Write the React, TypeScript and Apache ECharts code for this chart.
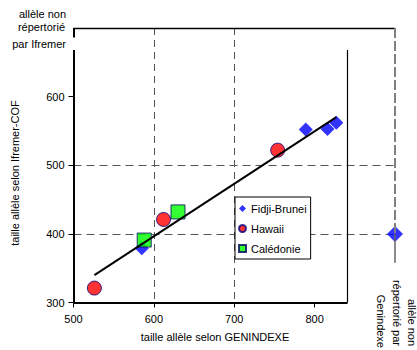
import React, { useEffect, useRef } from "react";
import * as echarts from "echarts";

// ---- data ----
const fidjiBrunei: number[][] = [
  [585, 379],
  [789, 552],
  [816, 553],
  [827, 562],
];
// allele not listed by Genindexe (plotted in the right band)
const fidjiNonRepertorie: number[][] = [[900, 400]];
const hawaii: number[][] = [
  [526, 321],
  [612, 421],
  [754, 522],
];
const caledonie: number[][] = [
  [588, 391],
  [630, 432],
];
const trendLine: number[][] = [
  [526, 340],
  [827, 570],
];
const xTicks = [500, 600, 700, 800];
const yTicks = [300, 400, 500, 600];
const seriesNames = ["Fidji-Brunei", "Hawaii", "Calédonie"];

const FONT = "Liberation Sans, Arial, sans-serif";

export default function App() {
  const ref = useRef<HTMLDivElement>(null);

  useEffect(() => {
    if (!ref.current) return;
    const chart = echarts.init(ref.current, undefined, { renderer: "svg" });

    const seg = (a: number[], b: number[], style: any) => [
      { coord: a, lineStyle: style },
      { coord: b },
    ];
    const solid = (w: number) => ({ color: "#000", width: w, type: "solid" });

    const option: any = {
      animation: false,
      backgroundColor: "#fff",
      textStyle: { fontFamily: FONT },
      grid: { left: 73.5, top: 28, width: 321.5, height: 274.5 },
      legend: {
        orient: "vertical",
        left: 235,
        top: 197,
        data: seriesNames,
        itemWidth: 7,
        itemHeight: 7,
        itemGap: 9,
        padding: [6, 4, 5, 3],
        backgroundColor: "#fff",
        borderColor: "#000",
        borderWidth: 1,
        textStyle: { fontSize: 11, color: "#000", fontFamily: FONT },
      },
      xAxis: {
        type: "value",
        min: 500,
        max: 900,
        interval: 100,
        axisLine: { show: false },
        axisTick: {
          show: true,
          length: 5,
          customValues: xTicks,
          lineStyle: { color: "#000", width: 1 },
        },
        axisLabel: {
          customValues: xTicks,
          margin: 11,
          color: "#000",
          fontSize: 11,
          fontFamily: FONT,
          formatter: (v: number) => (v > 800 ? "" : String(v)),
        },
        splitLine: {
          show: true,
          showMinLine: false,
          showMaxLine: false,
          lineStyle: { color: "#555", type: [7, 5], width: 1 },
        },
      },
      yAxis: {
        type: "value",
        min: 300,
        max: 700,
        interval: 100,
        axisLine: { show: false },
        axisTick: {
          show: true,
          length: 5,
          customValues: yTicks,
          lineStyle: { color: "#000", width: 1 },
        },
        axisLabel: {
          customValues: yTicks,
          margin: 9,
          color: "#000",
          fontSize: 11,
          fontFamily: FONT,
          formatter: (v: number) => (v > 600 ? "" : String(v)),
        },
        splitLine: {
          show: true,
          showMinLine: false,
          showMaxLine: false,
          lineStyle: { color: "#555", type: [8, 5], width: 1 },
        },
      },
      series: [
        {
          name: "Fidji-Brunei",
          type: "scatter",
          symbol: "diamond",
          symbolSize: 14,
          itemStyle: { color: "#0000FF" },
          data: [
            ...fidjiBrunei.map((p) => ({ value: p })),
            ...fidjiNonRepertorie.map((p) => ({ value: p, symbolSize: 16 })),
          ],
          z: 3,
        },
        {
          name: "Hawaii",
          type: "scatter",
          symbol: "circle",
          symbolSize: 14,
          itemStyle: { color: "#FF0000", borderColor: "#000080", borderWidth: 1 },
          data: hawaii,
          z: 3,
        },
        {
          name: "Calédonie",
          type: "scatter",
          symbol: "rect",
          symbolSize: 14,
          itemStyle: { color: "#00FF00", borderColor: "#000060", borderWidth: 1 },
          data: caledonie,
          z: 3,
        },
        {
          name: "trend",
          type: "line",
          data: trendLine,
          showSymbol: false,
          symbol: "none",
          lineStyle: { color: "#000", width: 2 },
          z: 4,
          silent: true,
        },
        {
          name: "frame",
          type: "line",
          data: [],
          silent: true,
          z: 2,
          markLine: {
            silent: true,
            symbol: ["none", "none"],
            label: { show: false },
            animation: false,
            data: [
              seg([500, 300], [841, 300], solid(2)),
              seg([500, 300], [500, 668], solid(2)),
              seg([500, 686], [500, 700], solid(2)),
              seg([496, 668], [841, 668], solid(1.3)),
              seg([841, 300], [841, 668], solid(1.2)),
              seg([500, 700], [900, 700], solid(1.3)),
              seg([900, 700], [900, 400], { color: "#808080", width: 2, type: [10, 3] }),
              seg([900, 400], [900, 358], { color: "#666", width: 1.5, type: "solid" }),
            ],
          },
        },
      ],
      graphic: [
        { type: "text", x: 66, y: 14, style: { text: "allèle non", align: "right", verticalAlign: "middle", fontSize: 11, fontFamily: FONT, fill: "#000" } },
        { type: "text", x: 65, y: 27, style: { text: "répertorié", align: "right", verticalAlign: "middle", fontSize: 11, fontFamily: FONT, fill: "#000" } },
        { type: "text", x: 66, y: 44, style: { text: "par Ifremer", align: "right", verticalAlign: "middle", fontSize: 11, fontFamily: FONT, fill: "#000" } },
        { type: "text", x: 15, y: 173, rotation: Math.PI / 2, style: { text: "taille allèle selon Ifremer-COF", align: "center", verticalAlign: "middle", fontSize: 11, fontFamily: FONT, fill: "#000" } },
        { type: "text", x: 215, y: 337, style: { text: "taille allèle selon GENINDEXE", align: "center", verticalAlign: "middle", fontSize: 11, fontFamily: FONT, fill: "#000" } },
        { type: "text", x: 412, y: 346, rotation: -Math.PI / 2, style: { text: "allèle non", align: "right", verticalAlign: "middle", fontSize: 11, fontFamily: FONT, fill: "#000" } },
        { type: "text", x: 397, y: 346, rotation: -Math.PI / 2, style: { text: "répertorié par", align: "right", verticalAlign: "middle", fontSize: 11, fontFamily: FONT, fill: "#000" } },
        { type: "text", x: 381, y: 348, rotation: -Math.PI / 2, style: { text: "Genindexe", align: "right", verticalAlign: "middle", fontSize: 11, fontFamily: FONT, fill: "#000" } },
      ],
    };

    chart.setOption(option);
    return () => chart.dispose();
  }, []);

  return (
    <div
      ref={ref}
      style={{ position: "fixed", left: 0, top: 0, width: 417, height: 350, background: "#fff" }}
    />
  );
}
